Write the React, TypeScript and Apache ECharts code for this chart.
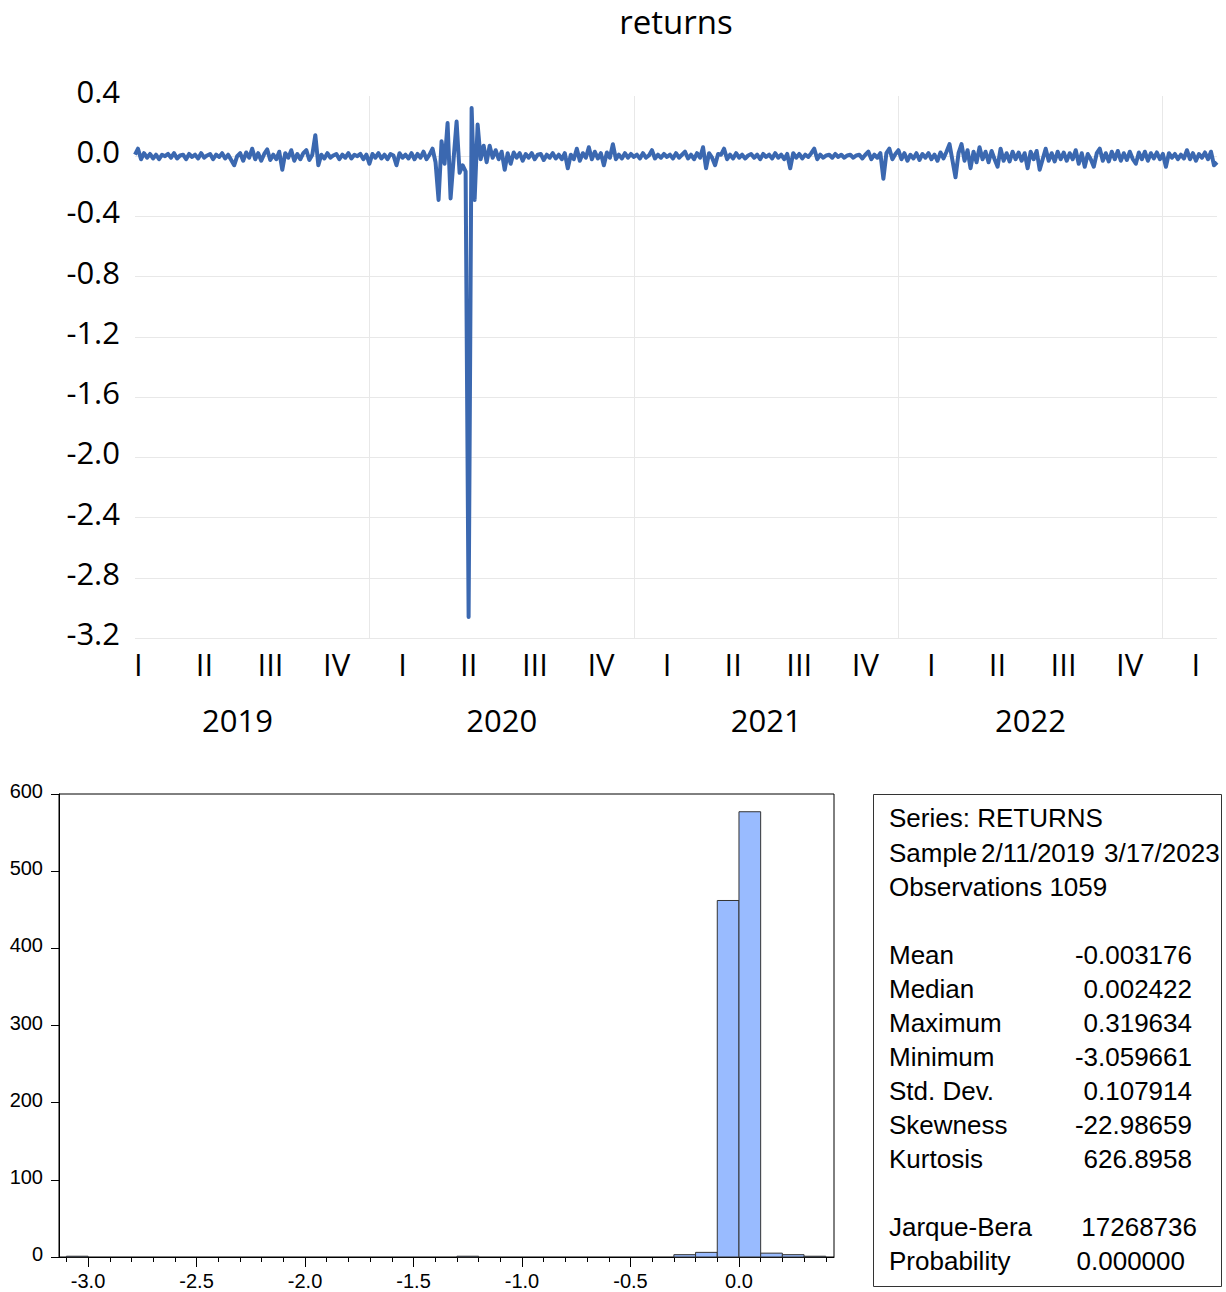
import React, { useEffect, useRef } from "react";
import * as echarts from "echarts";

// ---------- data ----------
const sampleStart = "2019-02-11";
const sampleEnd = "2023-03-17";

// returns, one value every third trading day
const returns: number[] = [
  0.01, 0.05, -0.02, 0.02, -0.01, 0.015, -0.015, 0.01, -0.02, 0.01, 0.0, 0.015, -0.01, 0.02, -0.015, 0.005, 0.01, -0.02, 0.015, -0.005,
  0.01, -0.015, 0.02, -0.01, 0.005, 0.015, -0.02, 0.01, -0.005, 0.02, -0.015, 0.01, -0.025, -0.06, 0.0, 0.02, -0.03, 0.025, -0.01, 0.05,
  -0.02, 0.02, -0.03, 0.015, 0.045, -0.025, 0.01, -0.02, 0.03, -0.09, 0.02, -0.01, 0.04, -0.03, 0.015, -0.02, 0.02, 0.04, -0.025, 0.01,
  0.14, -0.06, 0.01, -0.015, 0.02, -0.01, 0.005, 0.015, -0.02, 0.01, -0.01, 0.02, -0.015, 0.01, 0.0, 0.015, -0.02, 0.01, -0.05, 0.015,
  -0.01, 0.02, -0.015, 0.01, -0.02, 0.015, 0.005, -0.06, 0.02, -0.01, 0.01, -0.015, 0.02, -0.02, 0.015, -0.01, 0.03, -0.02, 0.01, 0.05,
  -0.04, -0.29, 0.1, -0.05, 0.22, -0.28, -0.02, 0.23, -0.11, -0.06, -0.1, -3.06, 0.32, -0.29, 0.21, -0.02, 0.07, -0.04, 0.07, -0.01,
  0.04, -0.02, 0.03, -0.09, 0.02, -0.05, 0.025, -0.01, 0.02, -0.03, 0.015, -0.01, 0.02, -0.02, 0.01, 0.015, -0.025, 0.01, -0.01, 0.02,
  -0.015, 0.01, -0.02, 0.02, -0.08, 0.01, -0.02, 0.05, -0.03, 0.02, -0.01, 0.06, -0.02, 0.03, -0.015, 0.02, -0.06, 0.025, -0.01, 0.08,
  -0.02, 0.01, -0.015, 0.02, -0.01, 0.015, -0.005, 0.01, -0.015, 0.02, -0.01, 0.005, 0.04, -0.015, 0.01, -0.01, 0.015, -0.005, 0.01, -0.015,
  0.02, -0.01, 0.01, 0.03, -0.015, 0.01, -0.02, 0.02, -0.01, 0.06, -0.08, 0.02, -0.01, -0.06, 0.015, 0.01, 0.05, -0.02, 0.01, -0.015,
  0.02, -0.01, 0.01, -0.015, 0.005, 0.015, -0.01, 0.01, -0.02, 0.015, -0.005, 0.01, -0.015, 0.02, -0.01, 0.01, -0.02, 0.015, -0.08, 0.02,
  -0.01, 0.015, -0.015, 0.01, -0.005, 0.02, 0.05, -0.02, 0.01, -0.01, 0.005, 0.01, -0.01, 0.015, -0.005, 0.01, -0.01, 0.005, 0.01, -0.01,
  0.005, 0.01, -0.015, 0.01, 0.03, -0.02, 0.01, -0.01, 0.02, -0.15, 0.02, 0.05, -0.02, 0.015, 0.04, -0.02, 0.02, -0.03, 0.01, -0.015,
  0.02, -0.025, 0.015, -0.01, 0.02, -0.02, 0.01, -0.03, 0.025, -0.015, 0.03, 0.08, -0.03, -0.14, 0.02, 0.08, -0.03, 0.04, -0.08, 0.03,
  -0.04, 0.06, -0.02, 0.03, -0.04, 0.035, -0.02, -0.07, 0.05, -0.03, 0.02, -0.035, 0.03, -0.02, 0.025, -0.03, 0.02, -0.08, 0.03, -0.02,
  0.035, -0.09, -0.02, 0.05, -0.03, 0.02, -0.035, 0.03, -0.02, 0.025, -0.03, 0.02, -0.02, 0.04, -0.05, 0.02, -0.07, 0.015, -0.02, -0.07,
  0.02, 0.05, -0.03, 0.02, -0.035, 0.03, -0.02, 0.035, -0.03, 0.02, -0.025, 0.03, -0.02, -0.05, 0.025, -0.02, 0.03, -0.03, 0.02, -0.015,
  0.025, -0.02, 0.015, -0.07, 0.02, -0.01, 0.015, -0.02, 0.01, -0.015, 0.04, -0.02, 0.02, -0.03, 0.015, -0.01, 0.025, -0.02, 0.03, -0.06,
  -0.04,
];

const yearStarts = [2020, 2021, 2022, 2023];
const yearLabelAt = [2019.5, 2020.5, 2021.5, 2022.5];
const quarterNames = ["I", "II", "III", "IV"];
const lineYTicks = { min: -3.2, max: 0.4, step: 0.4 };

// histogram
const binStarts = [-3.1, -1.3, -0.3, -0.2, -0.1, 0.0, 0.1, 0.2, 0.3];
const binCounts = [1, 1, 3, 6, 462, 577, 5, 3, 1];
const binWidth = 0.1;
const histMajorTicks = [-3.0, -2.5, -2.0, -1.5, -1.0, -0.5, 0.0];

// statistics
const headerLines = ["Series: RETURNS", "Observations 1059"];
const sampleParts = ["Sample", "2/11/2019", "3/17/2023"];
const statLabels = ["Mean", "Median", "Maximum", "Minimum", "Std. Dev.", "Skewness", "Kurtosis"];
const statValues = ["-0.003176", "0.002422", "0.319634", "-3.059661", "0.107914", "-22.98659", "626.8958"];
const testLabels = ["Jarque-Bera", "Probability"];
const testValues = ["17268736", "0.000000"];

// ---------- helpers ----------
const toFrac = (s: string) => {
  const [y, m, d] = s.split("-").map(Number);
  const a = Date.UTC(y, 0, 1);
  const b = Date.UTC(y + 1, 0, 1);
  return y + (Date.UTC(y, m - 1, d) - a) / (b - a);
};

const LINE_FONT = "Open Sans";
const HIST_FONT = "Liberation Sans";

export default function App() {
  const ref = useRef<HTMLDivElement>(null);

  useEffect(() => {
    if (!ref.current) return;
    const chart = echarts.init(ref.current, undefined, { renderer: "svg" });

    const x0 = toFrac(sampleStart);
    const x1 = toFrac(sampleEnd);
    const step = (x1 - x0) / (returns.length - 1);
    const lineData = returns.map((v, i) => [x0 + i * step, v]);

    const quarterMids: number[] = [];
    for (let y = 2019; y <= 2023; y++) {
      for (let q = 0; q < 4; q++) {
        const v = y + (q + 0.5) / 4;
        if (v >= x0 && v <= x1) quarterMids.push(v);
      }
    }

    const minorTicks: number[] = [];
    for (let k = -31; k <= 4; k++) minorTicks.push(k / 10);

    const histData = binStarts.map((s, i) => [s, s + binWidth, binCounts[i]]);

    const gridColor = "#e8e8e8";
    const statFont = `26px "${HIST_FONT}"`;
    const textEl = (text: string, x: number, y: number, align: string) => ({
      type: "text",
      x,
      y,
      silent: true,
      style: {
        text,
        font: statFont,
        fill: "#000",
        align,
        textAlign: align,
        verticalAlign: "middle",
        textVerticalAlign: "middle",
      },
    });

    const graphics: any[] = [
      {
        type: "text",
        x: 676,
        y: 21,
        style: {
          text: "returns",
          font: `33px "${LINE_FONT}"`,
          fill: "#000",
          align: "center",
          textAlign: "center",
          verticalAlign: "middle",
          textVerticalAlign: "middle",
        },
      },
      {
        type: "rect",
        shape: { x: 873.5, y: 794.5, width: 348, height: 492 },
        style: { fill: "none", stroke: "#333", lineWidth: 1 },
      },
      textEl(headerLines[0], 889, 818, "left"),
      textEl(sampleParts[0], 889, 853, "left"),
      textEl(sampleParts[1], 981, 853, "left"),
      textEl(sampleParts[2], 1104, 853, "left"),
      textEl(headerLines[1], 889, 887, "left"),
    ];
    statLabels.forEach((l, i) => {
      graphics.push(textEl(l, 889, 955 + i * 34, "left"));
      graphics.push(textEl(statValues[i], 1192, 955 + i * 34, "right"));
    });
    graphics.push(textEl(testLabels[0], 889, 1227, "left"));
    graphics.push(textEl(testValues[0], 1197, 1227, "right"));
    graphics.push(textEl(testLabels[1], 889, 1261, "left"));
    graphics.push(textEl(testValues[1], 1185, 1261, "right"));

    const option: any = {
      animation: false,
      backgroundColor: "#fff",
      grid: [
        { left: 135, right: 9, top: 96, bottom: 654, outerBoundsMode: "none" },
        {
          left: 59,
          right: 392,
          top: 794,
          bottom: 35,
          show: true,
          borderColor: "#000",
          borderWidth: 1,
          backgroundColor: "transparent",
          outerBoundsMode: "none",
        },
      ],
      xAxis: [
        {
          type: "value",
          gridIndex: 0,
          min: x0,
          max: x1,
          axisLine: { show: false },
          axisTick: { show: false, customValues: yearStarts },
          splitLine: { show: true, lineStyle: { color: gridColor, width: 1 } },
          axisLabel: {
            customValues: quarterMids,
            margin: 10,
            fontSize: 31,
            fontFamily: LINE_FONT,
            color: "#000",
            formatter: (v: number) => {
              const q = Math.round((v - Math.floor(v) - 0.125) / 0.25);
              return quarterNames[q] ?? "";
            },
          },
        },
        {
          type: "value",
          gridIndex: 0,
          position: "bottom",
          offset: 56,
          min: x0,
          max: x1,
          axisLine: { show: false },
          axisTick: { show: false },
          splitLine: { show: false },
          axisLabel: {
            customValues: yearLabelAt,
            margin: 10,
            fontSize: 31,
            fontFamily: LINE_FONT,
            color: "#000",
            formatter: (v: number) => String(Math.floor(v)),
          },
        },
        {
          type: "value",
          gridIndex: 1,
          position: "bottom",
          min: -3.134,
          max: 0.438,
          axisLine: { show: true, onZero: false, lineStyle: { color: "#000", width: 1 } },
          axisTick: { show: true, customValues: histMajorTicks, length: 10, lineStyle: { color: "#000" } },
          splitLine: { show: false },
          axisLabel: {
            customValues: histMajorTicks,
            margin: 14,
            fontSize: 20,
            fontFamily: HIST_FONT,
            color: "#000",
            formatter: (v: number) => (Math.abs(v) < 1e-9 ? "0.0" : v.toFixed(1)),
          },
        },
        {
          type: "value",
          gridIndex: 1,
          position: "bottom",
          min: -3.134,
          max: 0.438,
          axisLine: { show: false, onZero: false },
          axisTick: { show: true, customValues: minorTicks, length: 5, lineStyle: { color: "#000" } },
          splitLine: { show: false },
          axisLabel: { show: false },
        },
      ],
      yAxis: [
        {
          type: "value",
          gridIndex: 0,
          min: lineYTicks.min,
          max: lineYTicks.max,
          interval: lineYTicks.step,
          axisLine: { show: false, onZero: false },
          axisTick: { show: false },
          splitLine: { show: true, showMaxLine: false, lineStyle: { color: gridColor, width: 1 } },
          axisLabel: {
            margin: 15,
            fontSize: 31,
            fontFamily: LINE_FONT,
            color: "#000",
            verticalAlign: "bottom",
            lineHeight: 10,
            formatter: (v: number) => (Math.abs(v) < 1e-9 ? "0.0" : v.toFixed(1)),
          },
        },
        {
          type: "value",
          gridIndex: 1,
          min: 0,
          max: 600,
          interval: 100,
          axisLine: { show: true, onZero: false, lineStyle: { color: "#000", width: 1 } },
          axisTick: { show: true, length: 8, lineStyle: { color: "#000" } },
          splitLine: { show: false },
          axisLabel: {
            margin: 16,
            fontSize: 20,
            fontFamily: HIST_FONT,
            color: "#000",
            verticalAlign: "bottom",
            lineHeight: 6,
          },
        },
      ],
      series: [
        {
          type: "line",
          xAxisIndex: 0,
          yAxisIndex: 0,
          data: lineData,
          showSymbol: false,
          symbol: "none",
          lineStyle: { color: "#3b68b0", width: 4, join: "round" },
          itemStyle: { color: "#3b68b0" },
          z: 5,
        },
        {
          type: "custom",
          xAxisIndex: 2,
          yAxisIndex: 1,
          data: histData,
          encode: { x: [0, 1], y: 2 },
          renderItem: (params: any, api: any) => {
            const p0 = api.coord([api.value(0), api.value(2)]);
            const p1 = api.coord([api.value(1), 0]);
            return {
              type: "rect",
              shape: { x: p0[0], y: p0[1], width: p1[0] - p0[0], height: p1[1] - p0[1] },
              style: { fill: "#99bbff", stroke: "#333", lineWidth: 1 },
            };
          },
        },
      ],
      graphic: graphics,
    };

    chart.setOption(option);
    return () => chart.dispose();
  }, []);

  return (
    <div
      ref={ref}
      style={{ position: "absolute", left: 0, top: 0, width: 1226, height: 1292, background: "#fff" }}
    />
  );
}
